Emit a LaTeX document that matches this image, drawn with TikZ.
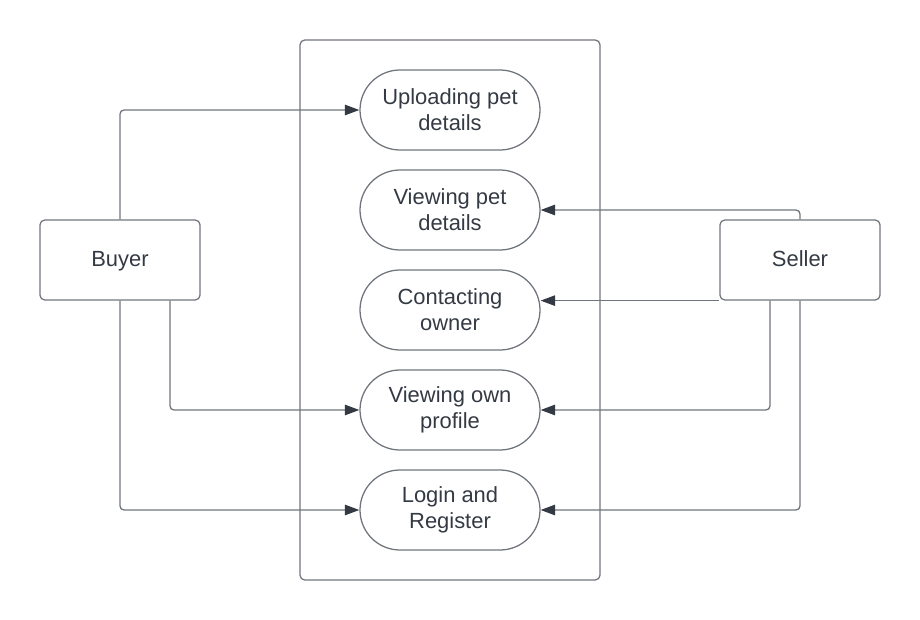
\documentclass[tikz,border=0pt]{standalone}
\usepackage{fontspec}
\setmainfont{Liberation Sans}
\usetikzlibrary{arrows.meta,positioning,calc,shapes.misc}
\definecolor{lineColor}{RGB}{112,116,124}
\definecolor{textColor}{RGB}{52,58,68}

\begin{document}
\begin{tikzpicture}[>={Triangle[length=3.6mm,width=2.6mm]},font=\fontsize{15.6}{18.5}\selectfont,
 actor/.style={draw=lineColor,line width=0.9pt,rounded corners=1.2mm,text=textColor,text depth=0.21em,minimum width=4cm,minimum height=2cm},
 usecase/.style={draw=lineColor,line width=0.9pt,rounded rectangle,text=textColor,align=center,minimum width=4.5cm,minimum height=2cm,inner sep=0pt},
 arrow/.style={->,draw=lineColor,line width=0.9pt,rounded corners=1mm,arrows={-{Triangle[length=3.6mm,width=2.6mm,color=textColor]}}}]
\useasboundingbox (0,0) rectangle (23,-15.5);
\node[draw=lineColor,line width=0.9pt,rounded corners=1.2mm,minimum width=7.5cm,minimum height=13.5cm] (system) at (11.25,-7.75) {};
\node[usecase] (upload) at (11.25,-2.75) {Uploading pet\\details};
\node[usecase] (viewpet) at (11.25,-5.25) {Viewing pet\\details};
\node[usecase] (contact) at (11.25,-7.75) {Contacting\\owner};
\node[usecase] (ownprof) at (11.25,-10.25) {Viewing own\\profile};
\node[usecase] (login) at (11.25,-12.75) {Login and\\Register};
\node[actor] (buyer) at (3,-6.5) {Buyer};
\node[actor] (seller) at (20,-6.5) {Seller};
\draw[arrow] (buyer.north) |- (upload.west);
\draw[arrow] ($(buyer.south)+(1.25,0)$) |- (ownprof.west);
\draw[arrow] (buyer.south) |- (login.west);
\draw[arrow] (seller.north) |- (viewpet.east);
\draw[arrow] (seller.south west) -- (seller.south west -| contact.east);
\draw[arrow] ($(seller.south)+(-0.75,0)$) |- (ownprof.east);
\draw[arrow] (seller.south) |- (login.east);
\end{tikzpicture}
\end{document}
